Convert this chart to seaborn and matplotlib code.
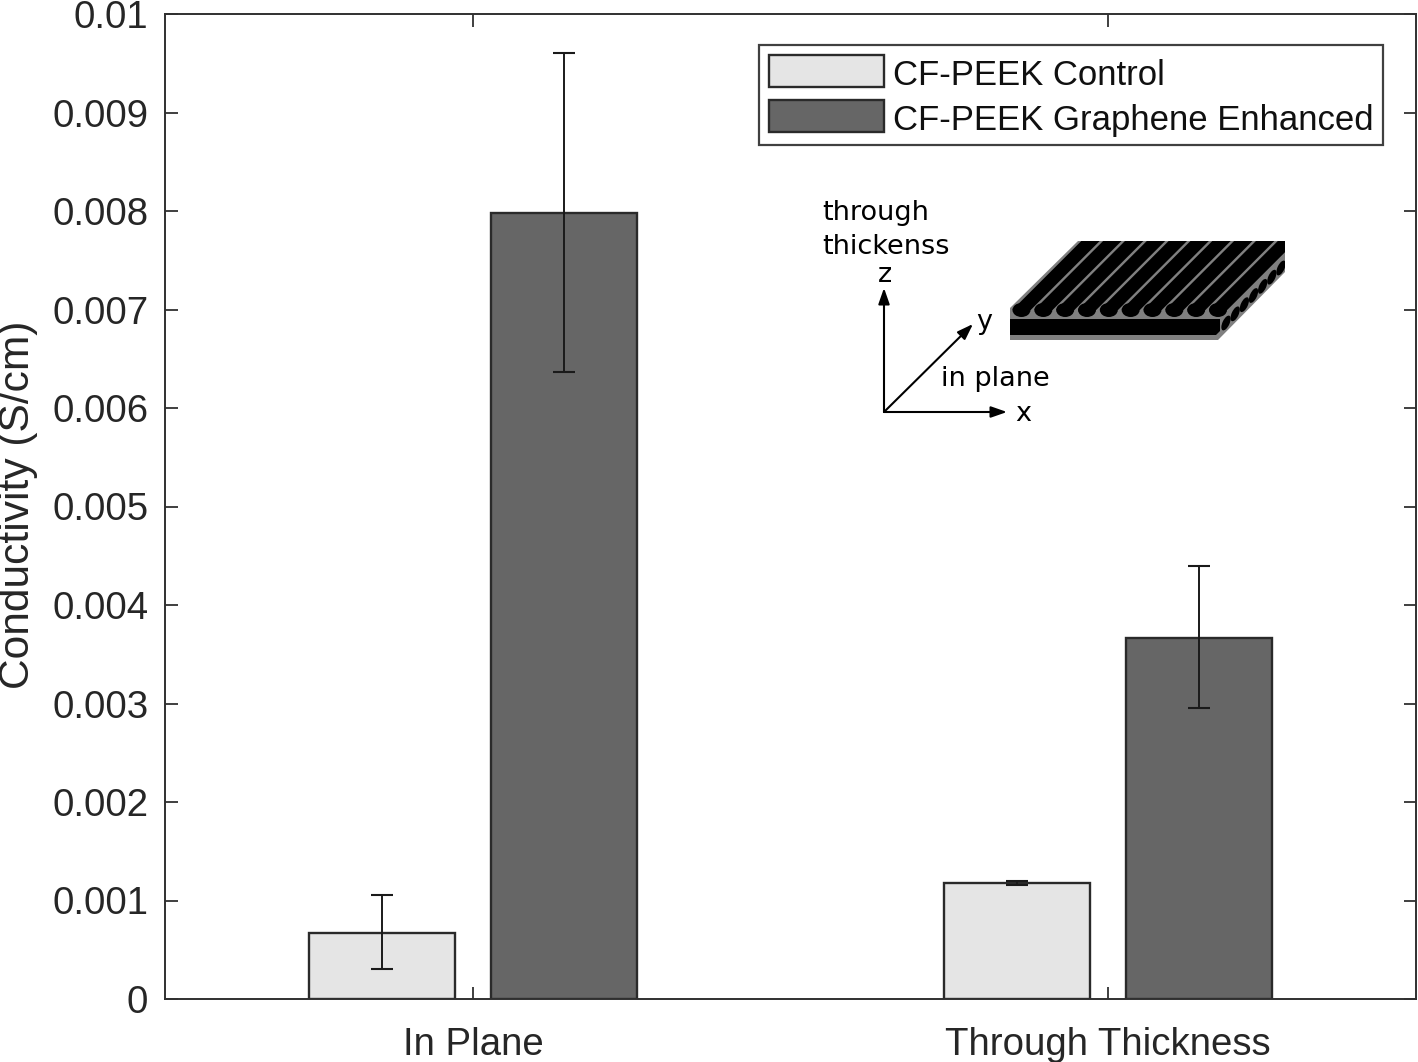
import numpy as np
import pandas as pd
import seaborn as sns
import matplotlib
matplotlib.use("Agg")
import matplotlib.pyplot as plt
from matplotlib.patches import Polygon, Ellipse

categories = ["In Plane", "Through Thickness"]
series = ["CF-PEEK Control", "CF-PEEK Graphene Enhanced"]
control = [0.00067, 0.00118]
graphene = [0.00798, 0.00367]
control_low = [0.00030, 0.00116]
control_high = [0.00106, 0.00120]
graphene_low = [0.00637, 0.00295]
graphene_high = [0.00960, 0.00440]
y_ticks = [0, 0.001, 0.002, 0.003, 0.004, 0.005, 0.006, 0.007, 0.008, 0.009, 0.01]
y_labels = ["0", "0.001", "0.002", "0.003", "0.004", "0.005", "0.006", "0.007", "0.008", "0.009", "0.01"]

W, H = 1418, 1062
TXT = "#262626"

sns.set_theme(style="white")
plt.rcParams["font.family"] = ["Liberation Sans", "DejaVu Sans"]

df = pd.DataFrame({
    "cat": categories * 2,
    "series": [series[0]] * 2 + [series[1]] * 2,
    "val": control + graphene,
})

fig = plt.figure(figsize=(W / 100, H / 100), dpi=100)
ax = fig.add_axes([165 / W, 1 - 999 / H, (1416 - 165) / W, (999 - 14) / H])

sns.barplot(data=df, x="cat", y="val", hue="series", order=categories, hue_order=series,
            palette=["#e5e5e5", "#666666"], width=0.573, gap=0.2, saturation=1,
            edgecolor="#2a2a2a", linewidth=1.7, errorbar=None, ax=ax)

# error bars go on the bar centres seaborn picked
bars = [b for c in ax.containers for b in c]
xs = [b.get_x() + b.get_width() / 2 for b in bars]
vals = control + graphene
lows = control_low + graphene_low
highs = control_high + graphene_high
yerr = [[v - l for v, l in zip(vals, lows)], [h - v for v, h in zip(vals, highs)]]
ax.errorbar(xs, vals, yerr=yerr, fmt="none", ecolor="#1a1a1a", elinewidth=1.4,
            capsize=8, capthick=1.5, zorder=5)

ax.set_xlim(-308 / 635, 1 + 308 / 635)
ax.set_ylim(0, 0.01)
ax.set_yticks(y_ticks)
ax.set_yticklabels(y_labels)
ax.set_xlabel("")
ax.set_ylabel("Conductivity (S/cm)", fontsize=30.6, color=TXT)
ax.yaxis.set_label_coords(-127 / 1251, 0.5 + 2 / 985)
ax.tick_params(axis="both", direction="in", length=9, width=1.3, color="#303030",
               labelsize=27.6, labelcolor=TXT, top=True, right=True, left=True, bottom=True)
ax.tick_params(axis="y", pad=12)
ax.tick_params(axis="x", pad=20)
for s in ax.spines.values():
    s.set_color("#303030")
    s.set_linewidth(1.4)

leg = ax.legend(loc="upper left", bbox_to_anchor=((759 - 165) / 1251, 1 - (45 - 14) / 985),
                fontsize=25, frameon=True, fancybox=False, edgecolor="#404040",
                facecolor="white", framealpha=1, borderaxespad=0, borderpad=0.28,
                handlelength=3.31, handleheight=1.04, handletextpad=0.26, labelspacing=0.3,
                labelcolor="#101010")
leg.get_frame().set_linewidth(1.6)
for t in leg.get_texts():
    t.set_y(-2.5)

# schematic overlay, drawn in image pixels
ov = fig.add_axes([0, 0, 1, 1], facecolor="none")
ov.set_xlim(0, W)
ov.set_ylim(H, 0)
ov.axis("off")

outline = [(1010, 308), (1078, 241), (1285, 241), (1285, 272), (1218, 340), (1010, 340)]
base = Polygon(outline, closed=True, fc="#808080", ec="none", zorder=2)
ov.add_patch(base)
for cx in np.linspace(1021.5, 1218, 10):
    stripe = Polygon([(cx - 9.2, 310), (cx + 9.2, 310), (cx + 9.2 + 69, 241), (cx - 9.2 + 69, 241)],
                     closed=True, fc="black", ec="none", zorder=3)
    ov.add_patch(stripe)
    stripe.set_clip_path(base)
    cap = Ellipse((cx, 310), 18, 14, fc="black", ec="none", zorder=3)
    ov.add_patch(cap)
    cap.set_clip_path(base)
ov.add_patch(Polygon([(1010, 319), (1220, 319), (1220, 331), (1216, 335), (1010, 335)],
                     closed=True, fc="black", ec="none", zorder=3))
for cx, cy in zip(np.linspace(1226, 1281, 7), np.linspace(323, 268, 7)):
    oval = Ellipse((cx, cy), 7, 16, angle=25, fc="black", ec="none", zorder=4)
    ov.add_patch(oval)
    oval.set_clip_path(base)

origin = (884, 412)
for tip in [(884, 288), (1007, 412), (973, 324)]:
    ov.annotate("", xy=tip, xytext=origin,
                arrowprops=dict(arrowstyle="-|>,head_length=0.8,head_width=0.28",
                                color="black", lw=1.5, shrinkA=0, shrinkB=0))

for txt, x, y, ha in [("through", 822, 213, "left"), ("thickenss", 822, 247, "left"),
                      ("z", 885, 275, "center"), ("y", 984, 322, "center"),
                      ("in plane", 995, 379, "center"), ("x", 1023, 414, "center")]:
    ov.text(x, y, txt, family="DejaVu Sans", fontsize=19.5, color="black", ha=ha, va="center")

fig.savefig("out.png", dpi=100)
